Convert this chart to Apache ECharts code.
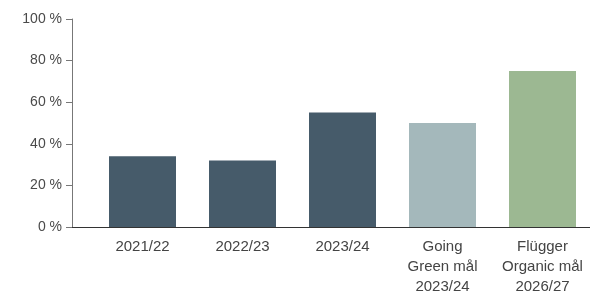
<!DOCTYPE html>
<html>
<head>
<meta charset="utf-8">
<script src="https://cdn.jsdelivr.net/npm/echarts@6/dist/echarts.min.js"></script>
<style>html,body{margin:0;padding:0;background:#fff}#c{width:590px;height:292px}</style>
</head>
<body>
<div id="c"></div>
<script>
var categories = ['2021/22', '2022/23', '2023/24', 'Going\nGreen mål\n2023/24', 'Flügger\nOrganic mål\n2026/27'];
var values = [34, 32, 55, 50, 75];
var barColors = ['#465b6a', '#465b6a', '#465b6a', '#a4b8bb', '#9cb892'];
var yTicks = [0, 20, 40, 60, 80, 100];

var chart = echarts.init(document.getElementById('c'));
var font = 'Liberation Sans, Arial, Helvetica, sans-serif';
chart.setOption({
  animation: false,
  grid: [
    {left: 92.5, right: -2.5, top: 19, bottom: 65, containLabel: false, outerBoundsMode: 'none'},
    {left: 72, width: 20.5, top: 19, bottom: 65, containLabel: false, outerBoundsMode: 'none'}
  ],
  xAxis: [
    {
      type: 'category', gridIndex: 0, data: categories,
      axisLine: {lineStyle: {color: '#333', width: 1}},
      axisTick: {show: false},
      axisLabel: {color: '#444', fontSize: 15, fontFamily: font, margin: 10, lineHeight: 20, interval: 0}
    },
    {
      type: 'value', gridIndex: 1, min: 0, max: 1,
      axisLine: {show: true, lineStyle: {color: '#333', width: 1}},
      axisTick: {show: false}, axisLabel: {show: false}, splitLine: {show: false}
    }
  ],
  yAxis: [
    {type: 'value', gridIndex: 0, min: yTicks[0], max: yTicks[yTicks.length - 1], interval: 20, show: false},
    {
      type: 'value', gridIndex: 1, min: yTicks[0], max: yTicks[yTicks.length - 1], interval: 20,
      axisLine: {show: true, lineStyle: {color: '#777', width: 1}},
      axisTick: {show: true, length: 6, lineStyle: {color: '#777'}},
      axisLabel: {color: '#4a4a4a', fontSize: 14, fontFamily: font, margin: 10, formatter: '{value} %'},
      splitLine: {show: false}
    }
  ],
  series: [{
    type: 'bar', xAxisIndex: 0, yAxisIndex: 0,
    barCategoryGap: '33%',
    data: values.map(function (v, i) { return {value: v, itemStyle: {color: barColors[i]}}; })
  }]
});
</script>
</body>
</html>
